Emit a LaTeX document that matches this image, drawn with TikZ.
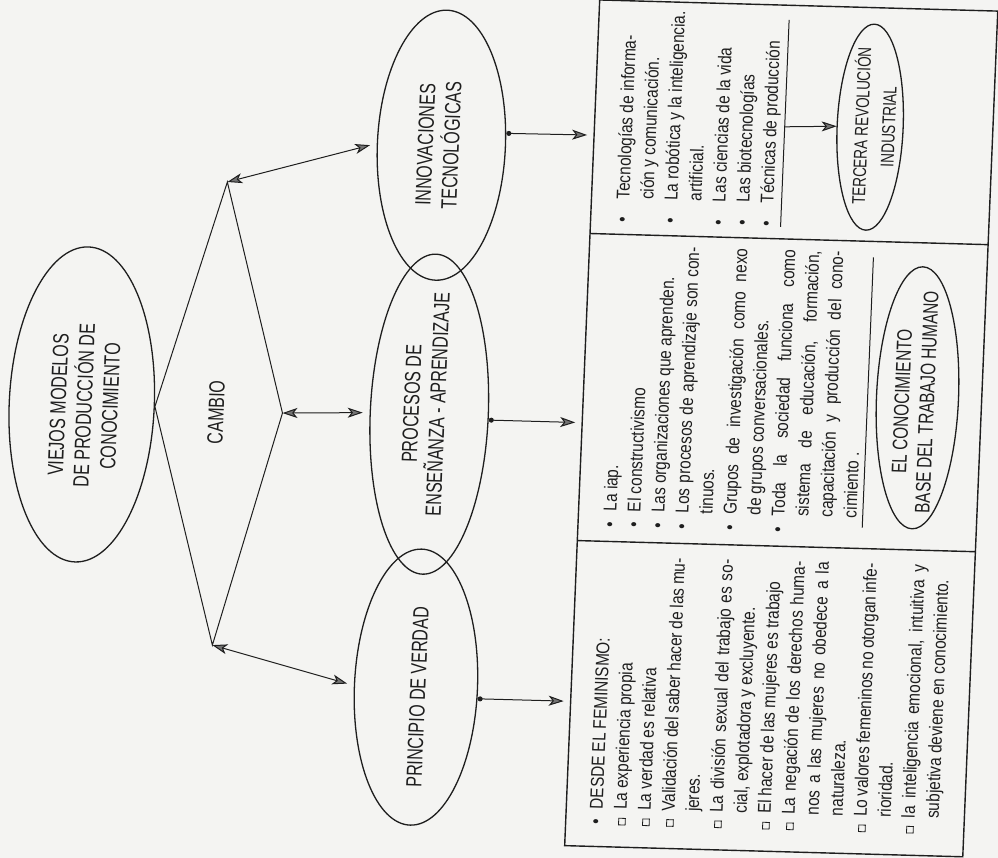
\documentclass[tikz,border=0pt]{standalone}
\usepackage{fontspec}
\usetikzlibrary{shapes.geometric,arrows.meta}
\newfontfamily\bodyf[FakeStretch=0.83]{Liberation Sans}
\newfontfamily\titf[FakeStretch=0.73]{Liberation Sans}
\definecolor{ink}{RGB}{30,30,30}
\definecolor{paper}{RGB}{244,244,242}
\definecolor{tipg}{RGB}{115,115,115}
\newcommand\sqb{\raisebox{1.3pt}{\fboxsep=0pt\fboxrule=0.8pt\fbox{\rule{0pt}{5.8pt}\rule{5.8pt}{0pt}}}}
\newcommand\JA[1]{\makebox[253pt][s]{#1}}
\newcommand\JB[1]{\makebox[266pt][s]{#1}}
\newcommand\BA[1]{\makebox[15.5pt][l]{#1}}
\newcommand\BB[1]{\makebox[16pt][l]{#1}}
\newcommand\BC[1]{\makebox[23pt][l]{#1}}
\tikzset{mytip/.tip={Stealth[length=15pt,width=10pt,inset=4pt,fill=tipg]}}
\begin{document}
\begin{tikzpicture}[x=1pt,y=-1pt,
  ln/.style={draw=ink, line width=1pt},
  boxln/.style={draw=ink, line width=1.4pt},
  ell/.style={ellipse, draw=ink, line width=1.3pt, inner sep=0pt},
  ttl/.style={rotate=90, align=center, text=ink, inner sep=0pt,
    font=\titf\fontsize{22pt}{26pt}\selectfont},
  body/.style={rotate=90, anchor=base west, inner sep=0pt, text=ink,
    font=\bodyf\fontsize{18.5pt}{24pt}\selectfont},
  biarr/.style={ln, {mytip}-{mytip}},
  dotarr/.style={ln, {Circle[length=5pt]}-{mytip}},
  onearr/.style={ln, -{mytip}}]
\fill[paper] (0,0) rectangle (998,858);
\useasboundingbox (0,0) rectangle (998,858);
\begin{scope}[cm={1,-0.028,0.0414,1,(17.8pt,21.84pt)}, transform shape]
% left ellipse and kite
\node[ell, minimum width=145pt, minimum height=315pt] (viejos) at (81.5,424) {};
\node[ttl] (viejost) at (84,425) {VIEJOS MODELOS\\DE PRODUCCIÓN DE\\CONOCIMIENTO};
\node[ttl] (cambio) at (216,428) {CAMBIO};
\coordinate (T) at (217.7,197.7);
\coordinate (R) at (282.3,426.9);
\coordinate (B) at (221.9,660.6);
\draw[ln] (viejos.east) -- (T) -- (R) -- (B) -- cycle;
% middle ellipses
\node[ell, minimum width=128pt, minimum height=270pt] (innov) at (430,155) {};
\node[ell, minimum width=118pt, minimum height=320pt] (proc) at (429,424) {};
\node[ell, minimum width=123pt, minimum height=276pt] (princ) at (427,697) {};
\node[ttl] (innovt) at (427,155) {INNOVACIONES\\TECNOLÓGICAS};
\node[ttl] (proct) at (424,414) {PROCESOS DE\\ENSEÑANZA - APRENDIZAJE};
\node[ttl] (princt) at (429,707) {PRINCIPIO DE VERDAD};
\draw[biarr, shorten >=7pt] (T) -- (innov.west);
\draw[biarr, shorten >=7pt] (R) -- (proc.west);
\draw[biarr, shorten >=7pt] (B) -- (princ.west);
% arrows to the table
\coordinate (t1) at (575,140.7);
\coordinate (t2) at (575,428.1);
\coordinate (t3) at (575,706.7);
\draw[dotarr] (innov.12) -- (t1);
\draw[dotarr] (proc.-4) -- (t2);
\draw[dotarr] (princ.-9) -- (t3);
% table frame
\coordinate (bTL) at (582,5.5);
\coordinate (bTR) at (980,5.5);
\coordinate (bBR) at (980,851);
\coordinate (bBL) at (582,851);
\draw[boxln] (bTL) -- (bTR) -- (bBR) -- (bBL) -- cycle;
\coordinate (d1a) at (582,239);
\coordinate (d1b) at (980,239);
\coordinate (d2a) at (582,546);
\coordinate (d2b) at (980,546);
\draw[boxln] (d1a) -- (d1b);
\draw[boxln] (d2a) -- (d2b);
% column 3 (technology)
\node[body] (col3) at (620,227) {\parbox[t]{216pt}{%
\BC{•}Tecnologías de informa-\\
\BC{}ción y comunicación.\\
\BC{•}La robótica y la inteligencia.\\
\BC{}artificial.\\
\BC{•}Las ciencias de la vida\\
\BC{•}Las biotecnologías\\
\BC{•}Técnicas de producción}};
\coordinate (s3a) at (772,20);
\coordinate (s3b) at (772,227);
\coordinate (s3m) at (772,127);
\draw[ln] (s3a) -- (s3b);
\node[ell, minimum width=66pt, minimum height=206pt] (tercera) at (857.5,125) {};
\node[ttl, font=\titf\fontsize{18.5pt}{27pt}\selectfont] (tercerat) at (861,124) {TERCERA REVOLUCIÓN\\INDUSTRIAL};
\draw[onearr] (s3m) -- (tercera.west);
% column 2 (learning)
\node[body] (col2) at (620,532) {\parbox[t]{282pt}{%
\BB{•}La iap.\\
\BB{•}El constructivismo\\
\BB{•}Las organizaciones que aprenden.\\
\BB{•}\JB{Los procesos de aprendizaje son con-}\\
\BB{}tinuos.\\
\BB{•}\JB{Grupos de investigación como nexo}\\
\BB{}de grupos conversacionales.\\
\BB{•}\JB{Toda la sociedad funciona como}\\
\BB{}\JB{sistema de educación, formación,}\\
\BB{}\JB{capacitación y producción del cono-}\\
\BB{}cimiento .}};
\coordinate (s2a) at (866,255);
\coordinate (s2b) at (866,525);
\draw[ln] (s2a) -- (s2b);
\node[ell, minimum width=82pt, minimum height=262pt] (conoc) at (916,394) {};
\node[ttl, font=\titf\fontsize{21pt}{25pt}\selectfont] (conoct) at (913,398) {EL CONOCIMIENTO\\BASE DEL TRABAJO HUMANO};
% column 1 (feminism)
\node[body] (col1) at (618.5,829.5) {\parbox[t]{268.5pt}{%
\BA{•}DESDE EL FEMINISMO:\\
\BA{\sqb}La experiencia propia\\
\BA{\sqb}La verdad es relativa\\
\BA{\sqb}\JA{Validación del saber hacer de las mu-}\\
\BA{}jeres.\\
\BA{\sqb}\JA{La división sexual del trabajo es so-}\\
\BA{}cial, explotadora y excluyente.\\
\BA{\sqb}El hacer de las mujeres es trabajo\\
\BA{\sqb}\JA{La negación de los derechos huma-}\\
\BA{}\JA{nos a las mujeres no obedece a la}\\
\BA{}naturaleza.\\
\BA{\sqb}\JA{Lo valores femeninos no otorgan infe-}\\
\BA{}rioridad.\\
\BA{\sqb}\JA{la inteligencia emocional, intuitiva y}\\
\BA{}subjetiva deviene en conocimiento.}};
\end{scope}
\end{tikzpicture}
\end{document}
